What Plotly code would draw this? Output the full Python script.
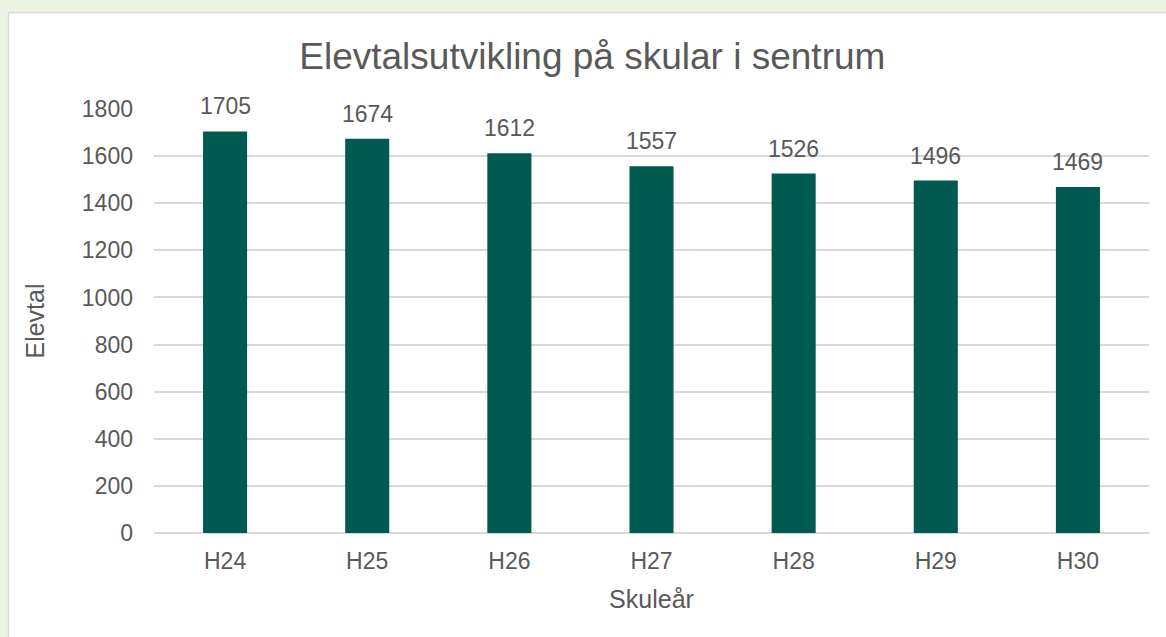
import plotly.graph_objects as go

# data
skuleaar = ["H24", "H25", "H26", "H27", "H28", "H29", "H30"]
elevtal = [1705, 1674, 1612, 1557, 1526, 1496, 1469]
y_ticks = [0, 200, 400, 600, 800, 1000, 1200, 1400, 1600, 1800]

W, H = 1166, 637
L, R, T, B = 154, 17, 109, 104
TEXT = "#595959"
FONT = "Liberation Sans, Arial, sans-serif"
PAGE_GREEN = "#EBF3E3"

pw = W - L - R
ph = H - T - B


def px_to_paper_x(px):
    return (px - L) / pw


def px_to_paper_y(py):
    return (H - B - py) / ph


fig = go.Figure()
fig.add_trace(
    go.Bar(
        x=skuleaar,
        y=elevtal,
        marker=dict(color="#005A4F", line=dict(width=0)),
        hoverinfo="x+y",
    )
)

# value labels above the bars
for cat, val in zip(skuleaar, elevtal):
    fig.add_annotation(
        x=cat, y=val, text=str(val), showarrow=False,
        yanchor="bottom", yshift=10,
        font=dict(size=23, color=TEXT, family=FONT),
    )

# white chart box on the light green page
fig.add_shape(
    type="rect", xref="paper", yref="paper", layer="below",
    x0=px_to_paper_x(8.5), x1=px_to_paper_x(W + 5),
    y0=px_to_paper_y(H + 5), y1=px_to_paper_y(12.5),
    fillcolor="white", line=dict(color="#D9D9D9", width=1.5),
)

fig.update_layout(
    width=W,
    height=H,
    margin=dict(l=L, r=R, t=T, b=B, autoexpand=False),
    paper_bgcolor=PAGE_GREEN,
    plot_bgcolor="rgba(0,0,0,0)",
    font=dict(family=FONT, color=TEXT, size=23),
    bargap=0.69,
    showlegend=False,
    title=dict(
        text="Elevtalsutvikling på skular i sentrum",
        x=0.508, xanchor="center",
        y=1 - 56 / H, yanchor="middle", yref="container",
        font=dict(size=37, color=TEXT, family=FONT),
    ),
    xaxis=dict(
        title=dict(text="Skuleår", standoff=17, font=dict(size=25, color=TEXT)),
        showgrid=False,
        showline=False,
        zeroline=False,
        ticks="",
        ticklabelstandoff=12,
        tickfont=dict(size=23, color=TEXT),
    ),
    yaxis=dict(
        title=dict(text="Elevtal", standoff=30, font=dict(size=25, color=TEXT)),
        range=[0, 1800],
        tickvals=y_ticks,
        showgrid=True,
        gridcolor="#D9D9D9",
        gridwidth=1.5,
        zeroline=True,
        zerolinecolor="#D9D9D9",
        zerolinewidth=1.5,
        showline=False,
        ticks="",
        ticklabelstandoff=20,
        tickfont=dict(size=23, color=TEXT),
    ),
)

# drop the browser's default body margin so the figure fills the window
fig.write_html(
    "out.html",
    config={"displayModeBar": False},
    post_script="document.body.style.margin='0px';"
    f"document.body.style.background='{PAGE_GREEN}';",
)
